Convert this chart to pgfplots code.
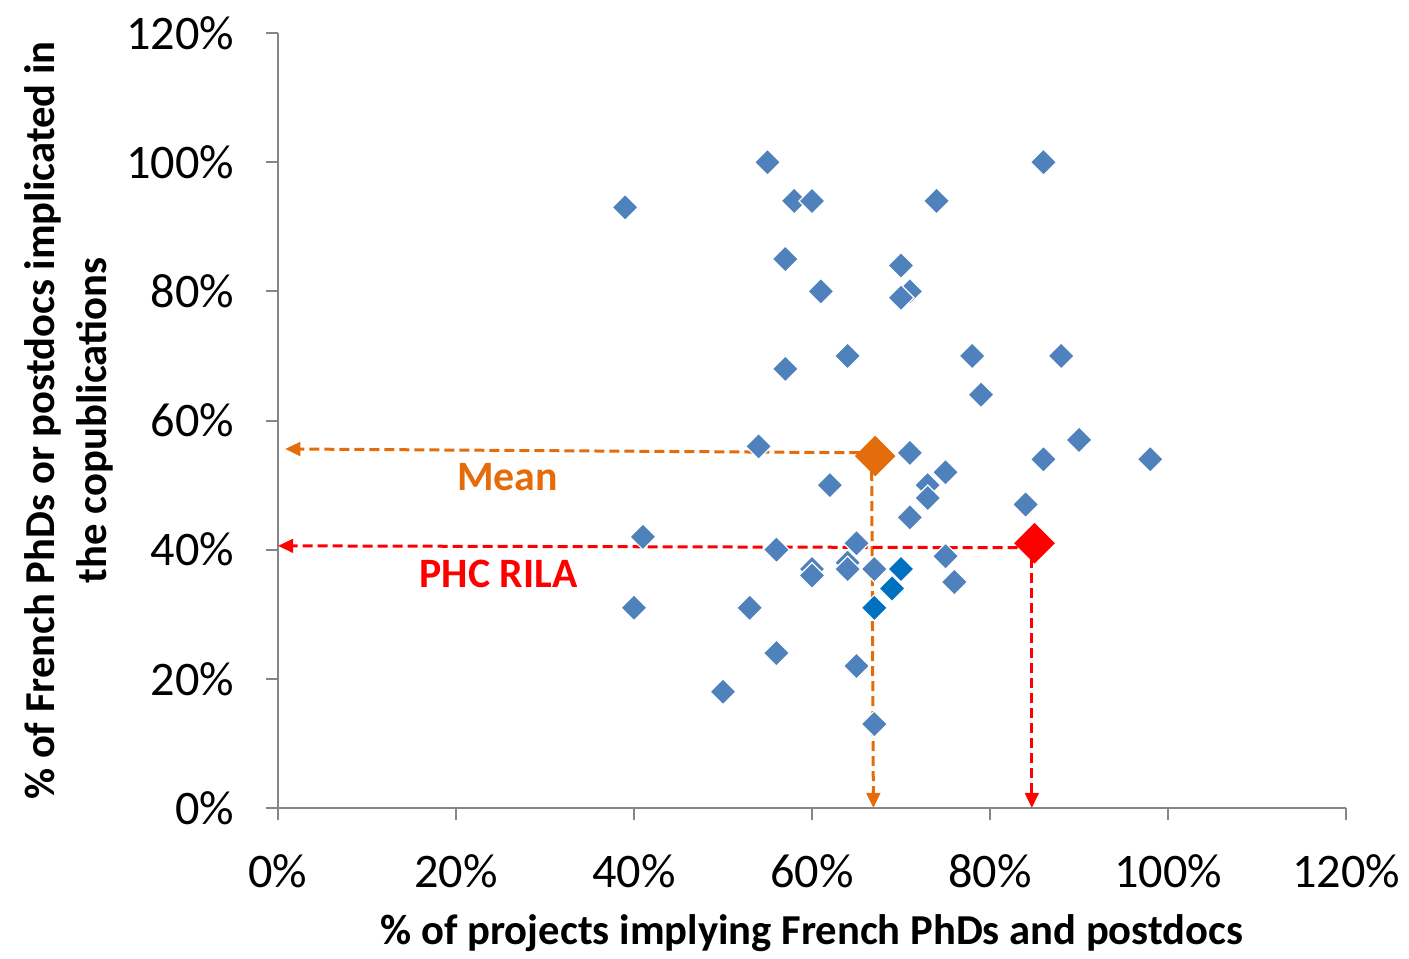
\documentclass[border=0pt]{standalone}
\usepackage{fontspec}
\setmainfont{Carlito}
\usepackage{pgfplots}
\pgfplotsset{compat=1.18}
\usetikzlibrary{arrows.meta}
\definecolor{pblue}{HTML}{4F81BD}
\definecolor{dblue}{HTML}{0070C0}
\definecolor{morange}{HTML}{E46C0A}
\definecolor{axgray}{HTML}{868686}
\begin{document}
\begin{tikzpicture}
\begin{axis}[
  scale only axis, width=267bp, height=193.75bp,
  xmin=0, xmax=120, ymin=0, ymax=120,
  axis x line=bottom, axis y line=left,
  axis line style={-, axgray, line width=0.5bp},
  xtick={0,20,40,60,80,100,120}, ytick={0,20,40,60,80,100,120},
  xticklabels={0\%,20\%,40\%,60\%,80\%,100\%,120\%},
  yticklabels={0\%,20\%,40\%,60\%,80\%,100\%,120\%},
  tick align=outside, major tick length=3bp,
  tick style={axgray, line width=0.5bp},
  ticklabel style={font=\fontsize{12.1}{14}\selectfont, black},
  yticklabel style={xshift=-4.5bp},
  xticklabel style={yshift=-5bp},
  clip=false,
]
\addplot[only marks, mark=square*, mark size=2.3bp, mark options={rotate=45, fill=pblue, draw=white, line width=0.3bp}] table {
x y
39 93
55 100
58 94
60 94
86 100
74 94
57 85
70 84
61 80
71 80
70 79
64 70
78 70
88 70
57 68
79 64
90 57
54 56
71 55
86 54
98 54
75 52
62 50
73 50
73 48
84 47
71 45
41 42
65 41
56 40
75 39
60 37
60 36
64 38
64 37
67 37
76 35
40 31
53 31
56 24
65 22
50 18
67 13
};
\addplot[only marks, mark=square*, mark size=2.3bp, mark options={rotate=45, fill=dblue, draw=white, line width=0.3bp}] table {
x y
70 37
69 34
67 31
};
\addplot[morange, line width=0.75bp, dash pattern=on 2.5bp off 1.25bp, -{Triangle[length=3.8bp,width=3.4bp]}] coordinates {(67,55) (0.8,55.6)};
\addplot[morange, line width=0.75bp, dash pattern=on 2.5bp off 1.25bp, -{Triangle[length=3.8bp,width=3.4bp]}] coordinates {(66.7,54.5) (66.9,0)};
\addplot[red, line width=0.75bp, dash pattern=on 2.5bp off 1.25bp, -{Triangle[length=3.8bp,width=3.4bp]}] coordinates {(84.8,40.3) (0,40.6)};
\addplot[red, line width=0.75bp, dash pattern=on 2.5bp off 1.25bp, -{Triangle[length=3.8bp,width=3.4bp]}] coordinates {(84.7,41) (84.7,0)};
\addplot[only marks, mark=square*, mark size=3.4bp, mark options={rotate=45, fill=morange, draw=morange}] coordinates {(67.1,54.5)};
\addplot[only marks, mark=square*, mark size=3.4bp, mark options={rotate=45, fill=red, draw=red}] coordinates {(85,41)};
\node[morange, font=\bfseries\fontsize{10.5}{12}\selectfont] at (axis cs:25.8,51.3) {Mean};
\node[red, font=\bfseries\fontsize{10.5}{12}\selectfont] at (axis cs:24.8,36.2) {PHC RILA};
\node[rotate=90, align=center, font=\bfseries\fontsize{10.7}{13}\selectfont] at (rel axis cs:-0.1957,0.5) {\% of French PhDs or postdocs implicated in\\the copublications};
\node[font=\bfseries\fontsize{10.7}{13}\selectfont] at (rel axis cs:0.5,-0.1613) {\% of projects implying French PhDs and postdocs};
\coordinate (bl) at (rel axis cs:-0.2603,-0.1948);
\coordinate (tr) at (rel axis cs:1.059,1.0426);
\end{axis}
\pgfresetboundingbox
\path[use as bounding box] (bl) rectangle (tr);
\end{tikzpicture}
\end{document}
